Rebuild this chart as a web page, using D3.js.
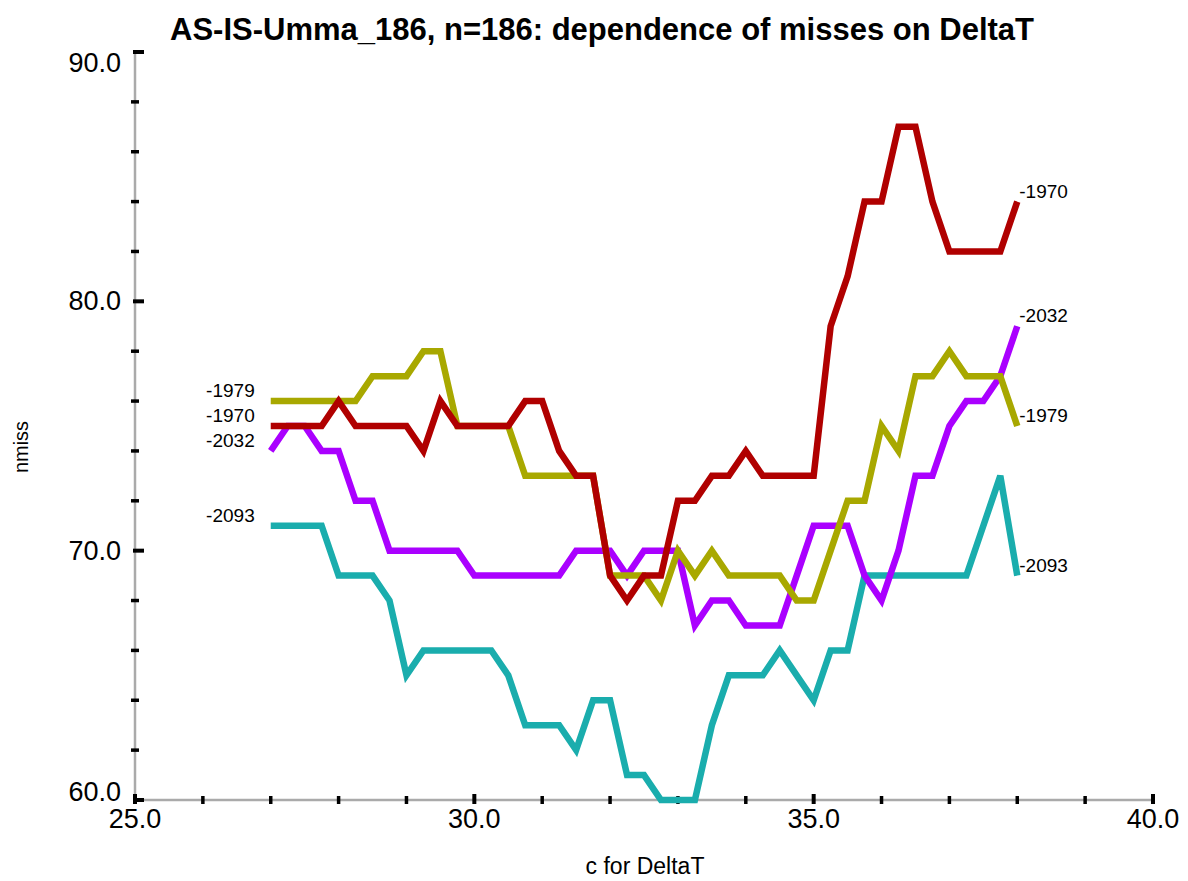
<!DOCTYPE html>
<html>
<head>
<meta charset="utf-8">
<script src="https://cdn.jsdelivr.net/npm/d3@7"></script>
<style>
  body { margin: 0; background: #fff; }
  svg { display: block; font-family: "Liberation Sans", Arial, sans-serif; }
</style>
</head>
<body>
<svg width="1188" height="881"></svg>
<script>
// datos
const cValues = [27.00, 27.25, 27.50, 27.75, 28.00, 28.25, 28.50, 28.75, 29.00, 29.25,
  29.50, 29.75, 30.00, 30.25, 30.50, 30.75, 31.00, 31.25, 31.50, 31.75,
  32.00, 32.25, 32.50, 32.75, 33.00, 33.25, 33.50, 33.75, 34.00, 34.25,
  34.50, 34.75, 35.00, 35.25, 35.50, 35.75, 36.00, 36.25, 36.50, 36.75,
  37.00, 37.25, 37.50, 37.75, 38.00];

const miss2093 = [71, 71, 71, 71, 69, 69, 69, 68, 65, 66, 66, 66, 66, 66, 65, 63, 63, 63, 62, 64,
  64, 61, 61, 60, 60, 60, 63, 65, 65, 65, 66, 65, 64, 66, 66, 69, 69, 69, 69, 69,
  69, 69, 71, 73, 69];
const miss2032 = [74, 75, 75, 74, 74, 72, 72, 70, 70, 70, 70, 70, 69, 69, 69, 69, 69, 69, 70, 70,
  70, 69, 70, 70, 70, 67, 68, 68, 67, 67, 67, 69, 71, 71, 71, 69, 68, 70, 73, 73,
  75, 76, 76, 77, 79];
const miss1979 = [76, 76, 76, 76, 76, 76, 77, 77, 77, 78, 78, 75, 75, 75, 75, 73, 73, 73, 73, 73,
  69, 69, 69, 68, 70, 69, 70, 69, 69, 69, 69, 68, 68, 70, 72, 72, 75, 74, 77, 77,
  78, 77, 77, 77, 75];
const miss1970 = [75, 75, 75, 75, 76, 75, 75, 75, 75, 74, 76, 75, 75, 75, 75, 76, 76, 74, 73, 73,
  69, 68, 69, 69, 72, 72, 73, 73, 74, 73, 73, 73, 73, 79, 81, 84, 84, 87, 87, 84,
  82, 82, 82, 82, 84];

const seriesNames = ["-2093", "-2032", "-1979", "-1970"];
const seriesValues = [miss2093, miss2032, miss1979, miss1970];
const seriesColors = ["#1aadad", "#aa00ff", "#a8a800", "#b00000"];

const xMajor = [25, 30, 35, 40];
const xMinor = [26, 27, 28, 29, 31, 32, 33, 34, 36, 37, 38, 39];
const yMajor = [60, 70, 80, 90];
const yMinor = [62, 64, 66, 68, 72, 74, 76, 78, 82, 84, 86, 88];

const svg = d3.select("svg");

const x = d3.scaleLinear().domain([25, 40]).range([135, 1153]);
const y = d3.scaleLinear().domain([60, 90]).range([800, 52]);
const fmt = d3.format(".1f");

// titulo
svg.append("text")
  .attr("x", 602).attr("y", 40)
  .attr("text-anchor", "middle")
  .style("font-size", "31px").style("font-weight", "bold")
  .text("AS-IS-Umma_186, n=186: dependence of misses on DeltaT");

// lineas de los ejes
svg.append("line")
  .attr("x1", x(25)).attr("x2", x(40)).attr("y1", y(60)).attr("y2", y(60))
  .attr("stroke", "#aaa").attr("stroke-width", 2.5);
svg.append("line")
  .attr("x1", x(25)).attr("x2", x(25)).attr("y1", y(60)).attr("y2", y(90))
  .attr("stroke", "#aaa").attr("stroke-width", 2.5);

// marcas del eje x
svg.selectAll(".xMinor").data(xMinor).enter().append("line")
  .attr("x1", d => x(d)).attr("x2", d => x(d))
  .attr("y1", y(60) - 4).attr("y2", y(60) + 4)
  .attr("stroke", "#000").attr("stroke-width", 3.5);
svg.selectAll(".xMajor").data(xMajor).enter().append("line")
  .attr("x1", d => x(d)).attr("x2", d => x(d))
  .attr("y1", y(60) - 6).attr("y2", y(60) + 4)
  .attr("stroke", "#000").attr("stroke-width", 4);
svg.selectAll(".xLabel").data(xMajor).enter().append("text")
  .attr("x", d => x(d)).attr("y", y(60) + 28)
  .attr("text-anchor", "middle")
  .style("font-size", "27px")
  .text(d => fmt(d));

// marcas del eje y
svg.selectAll(".yMinor").data(yMinor).enter().append("line")
  .attr("x1", x(25) - 4).attr("x2", x(25) + 4)
  .attr("y1", d => y(d)).attr("y2", d => y(d))
  .attr("stroke", "#000").attr("stroke-width", 3.5);
svg.selectAll(".yMajor").data(yMajor).enter().append("line")
  .attr("x1", x(25) - 2).attr("x2", x(25) + 9)
  .attr("y1", d => y(d)).attr("y2", d => y(d))
  .attr("stroke", "#000").attr("stroke-width", 4);
svg.selectAll(".yLabel").data(yMajor).enter().append("text")
  .attr("x", x(25) - 14)
  .attr("y", d => y(d) + (d === 90 ? 20 : d === 60 ? 1 : 9))
  .attr("text-anchor", "end")
  .style("font-size", "27px")
  .text(d => fmt(d));

// titulos de los ejes
svg.append("text")
  .attr("x", 645).attr("y", 874)
  .attr("text-anchor", "middle")
  .style("font-size", "23px")
  .text("c for DeltaT");
svg.append("text")
  .attr("transform", "translate(28,447) rotate(-90)")
  .attr("text-anchor", "middle")
  .style("font-size", "20px")
  .text("nmiss");

// series
const line = d3.line()
  .x((d, i) => x(cValues[i]))
  .y(d => y(d));

seriesValues.forEach((vals, k) => {
  svg.append("path")
    .datum(vals)
    .attr("d", line)
    .attr("fill", "none")
    .attr("stroke", seriesColors[k])
    .attr("stroke-width", 6.5)
    .attr("stroke-linejoin", "miter");

  const last = vals.length - 1;
  svg.append("text")
    .attr("x", x(cValues[0]) - 16)
    .attr("y", y(vals[0]) - 4)
    .attr("text-anchor", "end")
    .style("font-size", "19px")
    .text(seriesNames[k]);
  svg.append("text")
    .attr("x", x(cValues[last]) + 2)
    .attr("y", y(vals[last]) - 4)
    .style("font-size", "19px")
    .text(seriesNames[k]);
});
</script>
</body>
</html>
